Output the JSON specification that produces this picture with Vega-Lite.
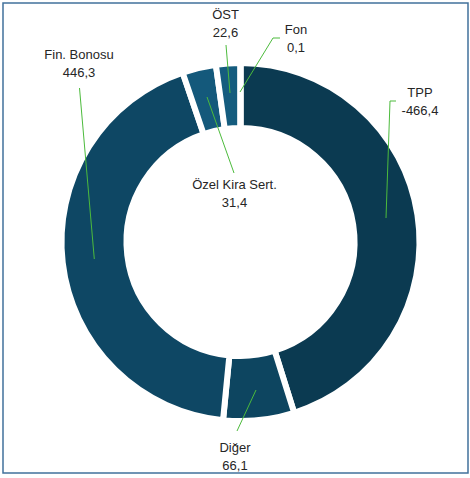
{
  "$schema": "https://vega.github.io/schema/vega-lite/v6.json",
  "width": 465,
  "height": 470,
  "autosize": "none",
  "padding": {"left": 3, "top": 3, "right": 2, "bottom": 5},
  "background": "white",
  "config": {"view": {"stroke": "#41719c", "strokeWidth": 1.5}},
  "datasets": {
    "slices": [
      {"k": 1, "name": "TPP", "v": 466.4},
      {"k": 2, "name": "Diğer", "v": 66.1},
      {"k": 3, "name": "Fin. Bonosu", "v": 446.3},
      {"k": 4, "name": "Özel Kira Sert.", "v": 31.4},
      {"k": 5, "name": "ÖST", "v": 22.6},
      {"k": 6, "name": "Fon", "v": 0.1}
    ],
    "labels": [
      {"name": "TPP", "t": "TPP\n-466,4", "lx": 179.5, "ly": 149},
      {"name": "Fin. Bonosu", "t": "Fin. Bonosu\n446,3", "lx": -161.5, "ly": 187},
      {"name": "ÖST", "t": "ÖST\n22,6", "lx": -15, "ly": 227},
      {"name": "Fon", "t": "Fon\n0,1", "lx": 55.5, "ly": 212},
      {"name": "Özel Kira Sert.", "t": "Özel Kira Sert.\n31,4", "lx": -6, "ly": 57},
      {"name": "Diğer", "t": "Diğer\n66,1", "lx": -5.5, "ly": -206}
    ],
    "leaders": [
      {"name": "TPP", "a": 155.5, "b": 141, "c": 149.5, "d": 141},
      {"name": "TPP", "a": 149.5, "b": 141, "c": 145.5, "d": 24},
      {"name": "Fin. Bonosu", "a": -161, "b": 154, "c": -146.2, "d": -17},
      {"name": "ÖST", "a": -14.5, "b": 197, "c": -10.5, "d": 149},
      {"name": "Fon", "a": 39.5, "b": 204, "c": 32.5, "d": 204},
      {"name": "Fon", "a": 32.5, "b": 204, "c": -0.5, "d": 150},
      {"name": "Özel Kira Sert.", "a": -33.5, "b": 145, "c": -6.5, "d": 69},
      {"name": "Diğer", "a": 15.5, "b": -148, "c": -3.5, "d": -189}
    ]
  },
  "layer": [
    {
      "data": {"name": "slices"},
      "mark": {"type": "arc", "outerRadius": 179, "innerRadius": 114, "stroke": "white", "strokeWidth": 6},
      "encoding": {
        "theta": {"field": "v", "type": "quantitative", "stack": true},
        "order": {"field": "k", "type": "quantitative"},
        "x": {"datum": 0, "type": "quantitative", "scale": {"domain": [-237.5, 227.5], "nice": false, "zero": false}, "axis": null},
        "y": {"datum": 0, "type": "quantitative", "scale": {"domain": [-231, 239], "nice": false, "zero": false}, "axis": null},
        "color": {
          "field": "name",
          "type": "nominal",
          "scale": {
            "domain": ["TPP", "Diğer", "Fin. Bonosu", "Özel Kira Sert.", "ÖST", "Fon"],
            "range": ["#0b3a51", "#0d4560", "#0e4764", "#14597b", "#155c7e", "#1b6d93"]
          },
          "legend": null
        }
      }
    },
    {
      "data": {"name": "leaders"},
      "mark": {"type": "rule", "color": "#4cbb3c", "strokeWidth": 1},
      "encoding": {
        "x": {"field": "a", "type": "quantitative", "scale": {"domain": [-237.5, 227.5], "nice": false, "zero": false}, "axis": null},
        "y": {"field": "b", "type": "quantitative", "scale": {"domain": [-231, 239], "nice": false, "zero": false}, "axis": null},
        "x2": {"field": "c"},
        "y2": {"field": "d"}
      }
    },
    {
      "data": {"name": "labels"},
      "mark": {"type": "text", "lineBreak": "\n", "lineHeight": 18, "font": "Liberation Sans", "fontSize": 13, "color": "#262626", "align": "center", "baseline": "middle"},
      "encoding": {
        "x": {"field": "lx", "type": "quantitative", "scale": {"domain": [-237.5, 227.5], "nice": false, "zero": false}, "axis": null},
        "y": {"field": "ly", "type": "quantitative", "scale": {"domain": [-231, 239], "nice": false, "zero": false}, "axis": null},
        "text": {"field": "t"}
      }
    }
  ]
}
